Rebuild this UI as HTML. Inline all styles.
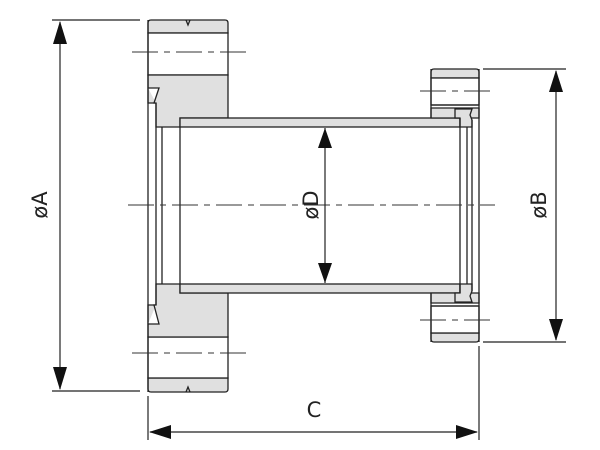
<!DOCTYPE html>
<html><head><style>body{margin:0;background:#fff}svg{display:block}</style></head><body>
<svg width="600" height="450" viewBox="0 0 600 450" xmlns="http://www.w3.org/2000/svg" font-family="DejaVu Sans, sans-serif">
<g stroke="#222" stroke-width="1.3" fill="none">
<path d="M151 20 H225 Q228 20 228 23 V33 H148 V23 Q148 20 151 20Z" fill="#e0e0e0"/>
<path d="M186 20 L188 25 L190 20" />
<rect x="148" y="33" width="80" height="42" fill="#fff"/>
<path d="M148 75 H228 V118 H180 V127 H156 V103 L148 103Z" fill="#e0e0e0"/>
<path d="M148 88 H159 L154 103 H156" fill="#fff"/>
<path d="M151 392 H225 Q228 392 228 389 V378 H148 V389 Q148 392 151 392Z" fill="#e0e0e0"/>
<path d="M186 392 L188 387 L190 392"/>
<rect x="148" y="337" width="80" height="41" fill="#fff"/>
<path d="M148 337 H228 V293 H180 V284 H156 V305 L148 305Z" fill="#e0e0e0"/>
<path d="M148 324 H159 L154 305 H156" fill="#fff"/>
<line x1="148" y1="20" x2="148" y2="392"/>
<line x1="156" y1="103" x2="156" y2="305"/>
<line x1="162" y1="127" x2="162" y2="284"/>
<rect x="180" y="118" width="280" height="9" fill="#e0e0e0"/>
<rect x="180" y="284" width="280" height="9" fill="#e0e0e0"/>
<line x1="180" y1="127" x2="180" y2="284"/>
<path d="M434 69 H476 Q479 69 479 72 V78 H431 V72 Q431 69 434 69Z" fill="#e0e0e0"/>
<rect x="431" y="78" width="48" height="27" fill="#fff"/>
<path d="M431 108 H479 V118 H431Z" fill="#e0e0e0"/>
<line x1="431" y1="105" x2="479" y2="105"/>
<path d="M455 109 H472 L470 115 L472 120 V127 H460 V118 H455Z" fill="#e0e0e0"/>
<path d="M434 342 H476 Q479 342 479 339 V333 H431 V339 Q431 342 434 342Z" fill="#e0e0e0"/>
<rect x="431" y="306" width="48" height="27" fill="#fff"/>
<path d="M431 293 H479 V303 H431Z" fill="#e0e0e0"/>
<line x1="431" y1="306" x2="479" y2="306"/>
<path d="M455 302 H472 L470 296 L472 291 V284 H460 V293 H455Z" fill="#e0e0e0"/>
<line x1="431" y1="69" x2="431" y2="118"/><line x1="431" y1="293" x2="431" y2="342"/>
<line x1="479" y1="69" x2="479" y2="342"/>
<line x1="460" y1="118" x2="460" y2="293"/>
<line x1="467" y1="127" x2="467" y2="284"/>
<line x1="472" y1="120" x2="472" y2="291"/>
</g>
<g stroke="#333" stroke-width="1" stroke-dasharray="26,6,6,6">
<line x1="128" y1="205" x2="495" y2="205"/>
<line x1="132" y1="52" x2="250" y2="52"/>
<line x1="132" y1="353" x2="250" y2="353"/>
<line x1="420" y1="91" x2="495" y2="91"/>
<line x1="420" y1="320" x2="495" y2="320"/>
</g>
<g stroke="#222" stroke-width="1.2">
<line x1="52" y1="20" x2="140" y2="20"/><line x1="52" y1="391" x2="140" y2="391"/>
<line x1="60" y1="22" x2="60" y2="389"/>
<line x1="483" y1="69" x2="566" y2="69"/><line x1="483" y1="342" x2="566" y2="342"/>
<line x1="556" y1="71" x2="556" y2="340"/>
<line x1="148" y1="396" x2="148" y2="440"/><line x1="479" y1="346" x2="479" y2="440"/>
<line x1="150" y1="432" x2="477" y2="432"/>
<line x1="325" y1="128" x2="325" y2="283"/>
</g>
<g fill="#111">
<path d="M60 21 L53 44 H67Z"/><path d="M60 390 L53 367 H67Z"/>
<path d="M556 70 L549 92 H563Z"/><path d="M556 341 L549 319 H563Z"/>
<path d="M149 432 L171 425 V439Z"/><path d="M478 432 L456 425 V439Z"/>
<path d="M325 128 L318 148 H332Z"/><path d="M325 283 L318 263 H332Z"/>
</g>
<g font-size="21" fill="#222" text-anchor="middle">
<text transform="translate(47 205) rotate(-90)">øA</text>
<text transform="translate(546 205) rotate(-90)">øB</text>
<text transform="translate(318 205) rotate(-90)">øD</text>
<text x="314" y="417">C</text>
</g>
</svg>
</body></html>
